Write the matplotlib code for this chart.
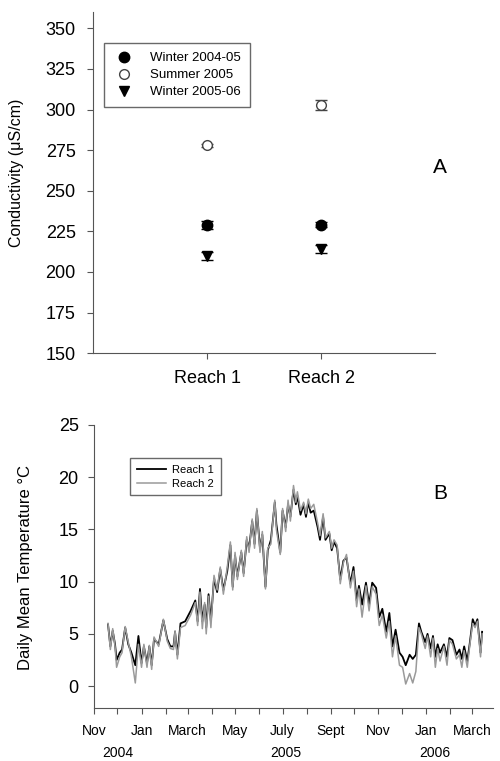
import matplotlib
matplotlib.use("Agg")
from matplotlib import pyplot as plt
import matplotlib.transforms as mtransforms
import numpy as np
import pandas as pd

plt.rcParams['font.family'] = ['Liberation Sans', 'DejaVu Sans']

# Panel A: conductivity per reach and season
reaches = ["Reach 1", "Reach 2"]
winter0405 = [229, 229]
winter0405_err = [2.5, 1.5]
summer05 = [278, 303]
summer05_err = [1.0, 3.0]
winter0506 = [210, 214]
winter0506_err = [2.5, 2.5]

# Panel B: daily mean temperature (days after 1 Nov 2004)
days = [18, 21, 24, 27, 29, 33, 36, 40, 44, 48, 53, 57, 61, 64, 68, 71, 74, 77, 83, 89,
        94, 98, 102, 104, 107, 111, 117, 124, 130, 133, 136, 139, 142, 144, 147, 150, 154, 158, 162, 166,
        171, 175, 178, 181, 184, 189, 192, 196, 199, 203, 206, 209, 213, 216, 220, 223, 227, 232, 234, 239,
        242, 246, 249, 252, 256, 259, 261, 265, 269, 272, 275, 278, 282, 287, 290, 294, 297, 302, 305, 308,
        312, 316, 320, 324, 329, 333, 337, 340, 344, 349, 353, 357, 362, 366, 370, 375, 379, 383, 387, 392,
        396, 400, 405, 409, 413, 417, 420, 425, 428, 432, 435, 438, 441, 444, 449, 453, 456, 460, 465, 469,
        472, 475, 479, 482, 486, 489, 492, 496, 498]
reach1 = [5.9, 3.8, 5.3, 4.0, 2.5, 3.2, 3.5, 5.6, 4.0, 3.2, 2.0, 4.8, 2.2, 3.8, 2.2, 3.8, 2.0, 4.5, 4.0, 6.3,
          4.5, 3.8, 3.8, 5.2, 3.0, 6.0, 6.2, 7.2, 8.2, 6.2, 9.3, 6.2, 7.8, 5.6, 8.8, 6.2, 10.3, 9.0, 11.2, 9.2,
          11.0, 13.5, 9.5, 12.5, 10.5, 12.8, 10.8, 14.0, 13.2, 15.8, 13.6, 16.8, 13.2, 14.5, 9.5, 13.0, 14.0, 17.6, 15.5, 12.8,
          16.8, 15.2, 17.4, 16.2, 18.8, 17.4, 18.2, 16.4, 17.4, 16.2, 17.6, 16.6, 16.8, 15.2, 14.0, 16.2, 14.0, 14.6, 13.0, 13.8,
          13.2, 10.2, 12.0, 12.3, 9.8, 11.4, 8.2, 9.6, 7.8, 9.9, 7.8, 9.9, 9.4, 6.6, 7.4, 5.2, 7.0, 3.8, 5.4, 3.2,
          2.8, 2.0, 3.0, 2.6, 3.0, 6.0, 5.2, 4.2, 5.0, 3.6, 4.8, 2.8, 4.0, 3.2, 4.0, 2.8, 4.6, 4.4, 3.0, 3.5,
          2.6, 3.8, 2.4, 4.0, 6.4, 5.8, 6.4, 3.2, 5.2]
reach2 = [6.0, 3.5, 5.5, 3.8, 1.8, 2.8, 3.2, 5.7, 4.2, 2.8, 0.3, 4.0, 1.8, 4.0, 1.8, 3.9, 1.6, 4.7, 3.8, 6.4,
          4.3, 3.6, 3.5, 5.3, 2.6, 5.6, 5.8, 6.8, 8.0, 5.8, 9.0, 5.5, 8.0, 5.0, 8.6, 5.6, 10.6, 9.2, 11.4, 8.8,
          11.4, 13.8, 9.2, 12.8, 10.2, 13.0, 10.5, 14.3, 12.8, 16.0, 13.2, 17.0, 12.8, 14.8, 9.3, 13.2, 13.6, 17.8, 15.0, 12.6,
          17.0, 14.8, 17.8, 15.8, 19.2, 17.6, 18.6, 16.8, 17.6, 16.5, 17.9, 17.0, 17.4, 15.6, 14.4, 16.5, 14.2, 14.8, 13.2, 14.0,
          13.5, 9.8, 11.8, 12.6, 9.4, 11.0, 7.6, 9.3, 6.6, 9.6, 7.2, 9.5, 8.8, 5.8, 6.8, 4.6, 6.2, 2.8, 4.8, 2.0,
          1.8, 0.2, 1.2, 0.3, 1.4, 5.6, 5.0, 3.6, 4.8, 2.8, 4.6, 1.8, 3.6, 2.4, 3.8, 2.0, 4.4, 4.0, 2.6, 3.0,
          1.8, 3.4, 1.8, 3.8, 6.0, 5.6, 6.2, 2.8, 5.0]

month_labels = ["Nov", "", "Jan", "", "March", "", "May", "", "July", "", "Sept", "", "Nov", "", "Jan", "", "March"]
years = ["2004", "2005", "2006"]
year_pos = ["2004-12-01", "2005-07-05", "2006-01-12"]

spine_col = "#555555"
fig = plt.figure(figsize=(5.0, 7.61), dpi=100)

# ---- panel A
ax1 = fig.add_axes([0.186, 0.536, 0.684, 0.448])
x = np.arange(1, len(reaches) + 1)
e1 = ax1.errorbar(x, winter0405, yerr=winter0405_err, fmt="o", color="black", ms=7.5, capsize=4,
                  elinewidth=1)
e2 = ax1.errorbar(x, summer05, yerr=summer05_err, fmt="o", mfc="white", mec="#444444", color="#444444",
                  ms=7, mew=1, capsize=4, elinewidth=1)
e3 = ax1.errorbar(x, winter0506, yerr=winter0506_err, fmt="v", color="black", ms=7.5, capsize=4,
                  elinewidth=1)
ax1.set_xlim(0, 3)
ax1.set_ylim(150, 360)
ax1.set_yticks(np.arange(150, 351, 25))
ax1.set_xticks(x)
ax1.set_xticklabels(reaches)
ax1.tick_params(axis="y", labelsize=13, direction="out", length=4.5, pad=8, color=spine_col)
ax1.tick_params(axis="x", labelsize=13, direction="out", length=4.5, pad=8, color=spine_col)
for s in ["top", "right"]:
    ax1.spines[s].set_visible(False)
for s in ["left", "bottom"]:
    ax1.spines[s].set_color(spine_col)
ax1.set_ylabel("Conductivity (\u03bcS/cm)", fontsize=11.5)
ax1.yaxis.set_label_coords(-0.202, 0.53)
leg1 = ax1.legend([e1[0], e2[0], e3[0]], ["Winter 2004-05", "Summer 2005", "Winter 2005-06"],
                  loc="upper left", bbox_to_anchor=(0.208, 0.9435), bbox_transform=fig.transFigure,
                  fontsize=9.5, frameon=True, fancybox=False, handletextpad=1.2, labelspacing=0.35,
                  borderpad=0.7, borderaxespad=0, handlelength=1.6)
leg1.get_frame().set_edgecolor("#444444")
leg1.get_frame().set_linewidth(1.0)
fig.text(0.88, 0.78, "A", fontsize=15, ha="center", va="center")

# ---- panel B
ax2 = fig.add_axes([0.188, 0.0696, 0.798, 0.372])
dates = pd.Timestamp("2004-11-01") + pd.to_timedelta(days, unit="D")
ax2.plot(dates, reach1, color="black", lw=1.3, label="Reach 1")
ax2.plot(dates, reach2, color="#9a9a9a", lw=1.1, label="Reach 2")
ax2.set_xlim(pd.Timestamp("2004-11-01"), pd.Timestamp("2006-03-28"))
ax2.set_ylim(-2.1, 25)
ax2.set_yticks(np.arange(0, 26, 5))
ticks = pd.date_range("2004-11-01", "2006-03-01", freq="MS")
ax2.set_xticks(ticks)
ax2.set_xticklabels(month_labels)
ax2.tick_params(axis="y", labelsize=13, direction="out", length=4.5, pad=6.5, color=spine_col)
ax2.tick_params(axis="x", labelsize=10, direction="out", length=4.5, pad=7, color=spine_col)
for s in ["top", "right"]:
    ax2.spines[s].set_visible(False)
for s in ["left", "bottom"]:
    ax2.spines[s].set_color(spine_col)
ax2.set_ylabel("Daily Mean Temperature \u00b0C", fontsize=12)
ax2.yaxis.set_label_coords(-0.153, 0.498)
trans = mtransforms.blended_transform_factory(ax2.transData, ax2.transAxes)
for yr, pos in zip(years, year_pos):
    ax2.text(pd.Timestamp(pos), -0.159, yr, transform=trans, fontsize=10, ha="center", va="center")
leg2 = ax2.legend(loc="upper left", bbox_to_anchor=(0.26, 0.398), bbox_transform=fig.transFigure,
                  fontsize=8, frameon=True, fancybox=False, handlelength=2.6, handletextpad=0.6,
                  labelspacing=0.35, borderpad=0.6, borderaxespad=0)
leg2.get_frame().set_edgecolor("#444444")
leg2.get_frame().set_linewidth(1.0)
fig.text(0.88, 0.352, "B", fontsize=15, ha="center", va="center")

fig.savefig("out.png", dpi=100)
